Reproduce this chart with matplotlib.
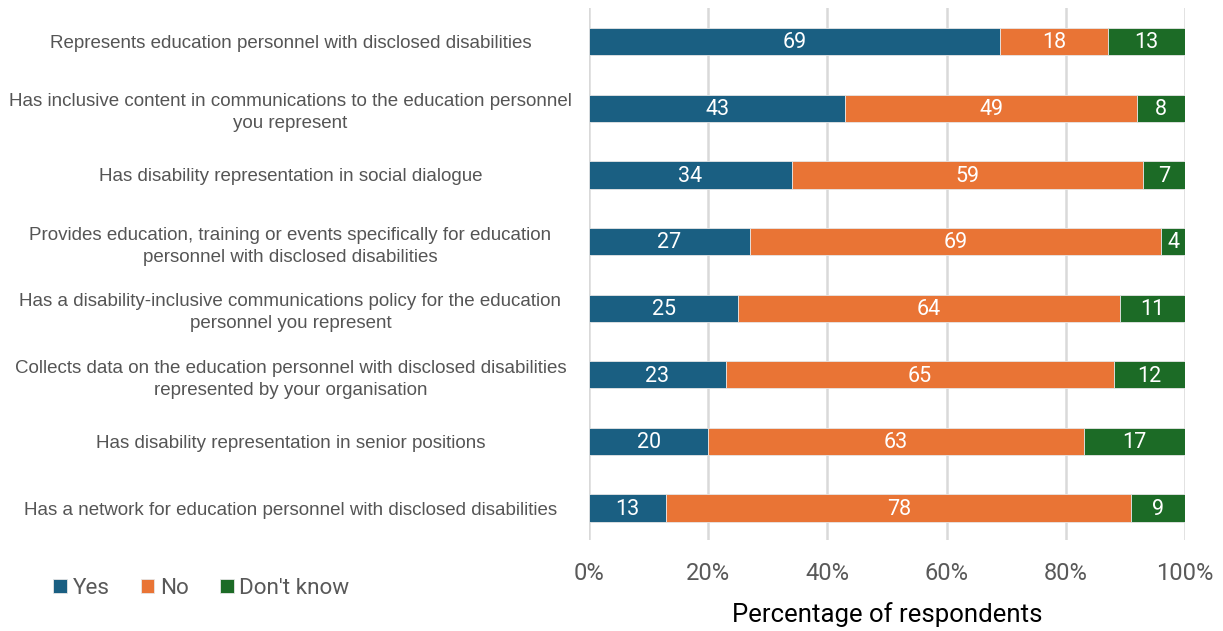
import numpy as np
import matplotlib.pyplot as plt

categories = [
    "Represents education personnel with disclosed disabilities",
    "Has inclusive content in communications to the education personnel\nyou represent",
    "Has disability representation in social dialogue",
    "Provides education, training or events specifically for education\npersonnel with disclosed disabilities",
    "Has a disability-inclusive communications policy for the education\npersonnel you represent",
    "Collects data on the education personnel with disclosed disabilities\nrepresented by your organisation",
    "Has disability representation in senior positions",
    "Has a network for education personnel with disclosed disabilities",
]
yes = [69, 43, 34, 27, 25, 23, 20, 13]
no = [18, 49, 59, 69, 64, 65, 63, 78]
dont_know = [13, 8, 7, 4, 11, 12, 17, 9]

series = [("Yes", yes, "#1a5f82"), ("No", no, "#e97435"), ("Don't know", dont_know, "#1c6b26")]

fig = plt.figure(figsize=(12.23, 6.31), dpi=100)
ax = fig.add_axes([0.4816, 0.144, 0.4874, 0.843])

y = np.arange(len(categories))
left = np.zeros(len(categories))
for name, vals, color in series:
    vals = np.array(vals, dtype=float)
    bars = ax.barh(y, vals, left=left, height=0.41, color=color, label=name,
                   edgecolor="#e6e6e6", linewidth=0.6, zorder=3)
    for b, v in zip(bars, vals):
        ax.text(b.get_x() + b.get_width() / 2, b.get_y() + b.get_height() / 2 + 0.02,
                f"{int(v)}", ha="center", va="center", color="white", fontsize=15.5,
                family="Roboto", zorder=4)
    left += vals

ax.set_xlim(0, 100)
ax.set_ylim(7.48, -0.5)
ax.set_yticks(y)
ax.set_yticklabels(categories, fontsize=13.5, color="#555555", family="Liberation Sans",
                   ha="center", multialignment="center", linespacing=1.4)
# centre of the label column sits about 300 px left of the axis
ax.tick_params(axis="y", length=0, pad=215)
ax.set_xticks(np.arange(0, 101, 20))
ax.set_xticklabels([f"{t}%" for t in range(0, 101, 20)], fontsize=17, color="#595959",
                   family="Roboto")
ax.tick_params(axis="x", length=0, pad=16)
ax.grid(axis="x", color="#d9d9d9", linewidth=1.8, zorder=0)
for s in ax.spines.values():
    s.set_visible(False)
ax.set_xlabel("Percentage of respondents", fontsize=18.5, family="Roboto", color="black",
              labelpad=12)

handles, labels = ax.get_legend_handles_labels()
fig.legend(handles, labels, loc="lower left", bbox_to_anchor=(0.027, 0.019), ncol=3,
           frameon=False, prop={"family": "Roboto", "size": 16.2}, labelcolor="#595959",
           handlelength=0.6, handleheight=0.6, handletextpad=0.25, columnspacing=1.4)

fig.savefig("out.png", dpi=100)
